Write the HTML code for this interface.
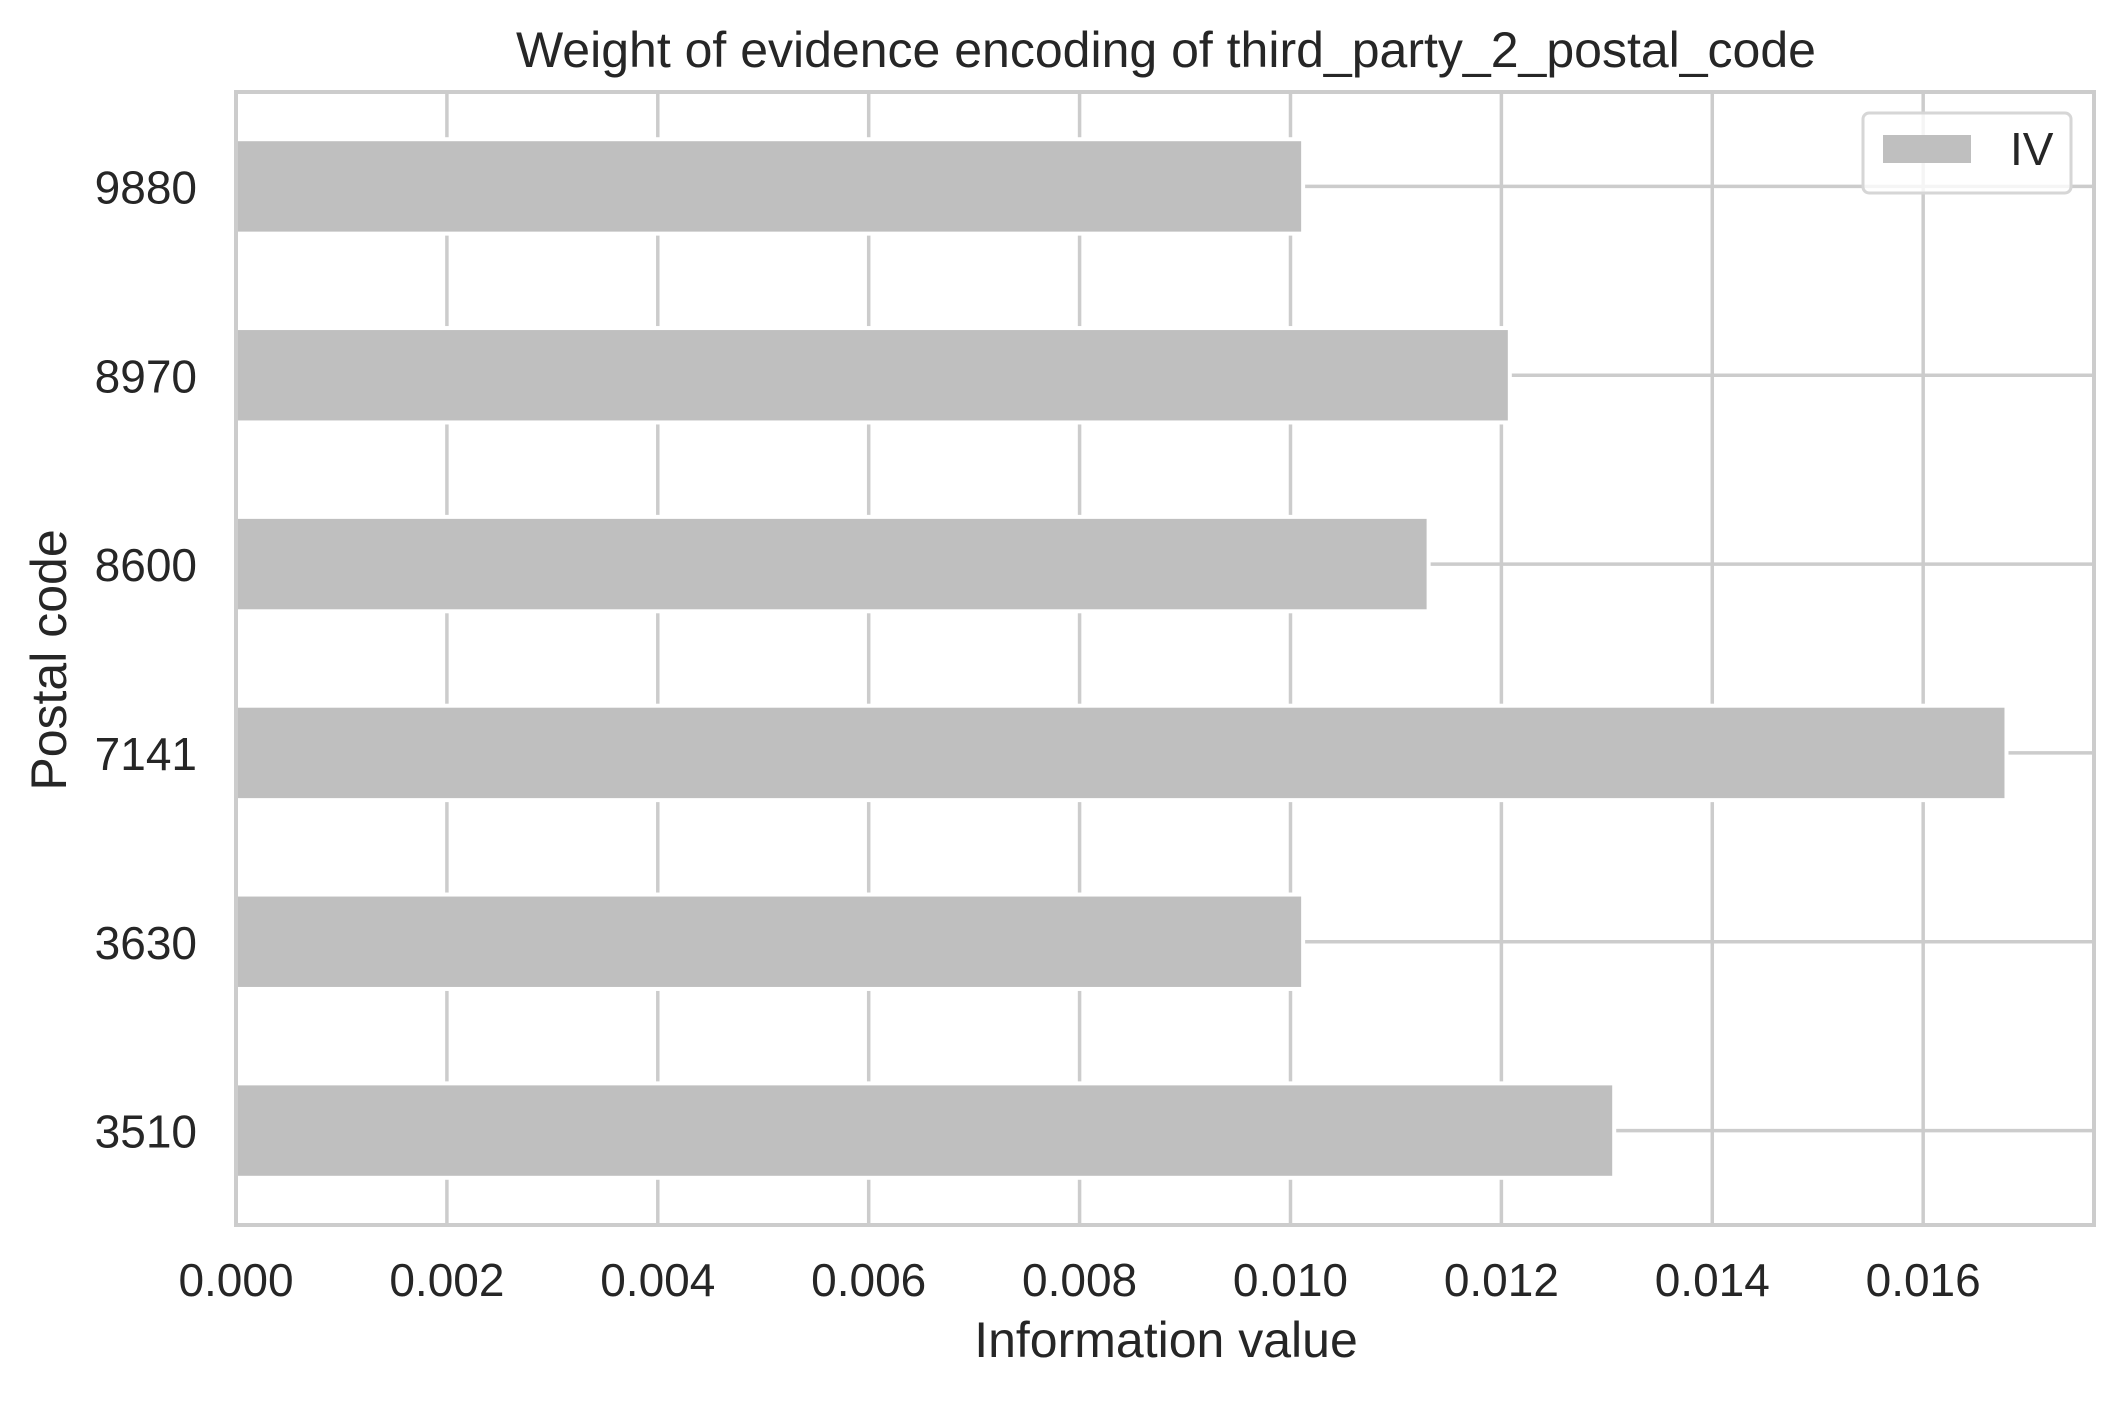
<!DOCTYPE html>
<html><head><meta charset="utf-8"><style>
html,body{margin:0;padding:0;background:#fff;}
svg text{font-family:"Liberation Sans",Arial,sans-serif;fill:#262626;}
</style></head><body>
<svg id="chart" width="2124" height="1397" viewBox="0 0 2124 1397" xmlns="http://www.w3.org/2000/svg">
<rect width="2124" height="1397" fill="#fff"/>
<g id="grid"></g>
<g id="bars"></g>
<rect x="236" y="92" width="1858" height="1133" fill="none" stroke="#cccccc" stroke-width="4"/>
<g id="xticks"></g>
<g id="yticks"></g>
<text x="1166" y="67" font-size="50" text-anchor="middle">Weight of evidence encoding of third_party_2_postal_code</text>
<text x="1166" y="1357" font-size="50" text-anchor="middle">Information value</text>
<text x="0" y="0" font-size="50" text-anchor="middle" transform="translate(66,660) rotate(-90)">Postal code</text>
<g>
<rect x="1863" y="113" width="208" height="80" rx="6" fill="#fff" fill-opacity="0.8" stroke="#d6d6d6" stroke-width="3"/>
<rect x="1883" y="135" width="88" height="28" fill="#bfbfbf"/>
<text x="2010" y="165" font-size="46">IV</text>
</g>
</svg>
<script>
const categories = ["9880","8970","8600","7141","3630","3510"];
const ivValues = [0.01012, 0.01208, 0.01131, 0.01679, 0.01012, 0.01307];
const xTicks = [0, 0.002, 0.004, 0.006, 0.008, 0.010, 0.012, 0.014, 0.016];
const xTickLabels = ["0.000","0.002","0.004","0.006","0.008","0.010","0.012","0.014","0.016"];
const NS="http://www.w3.org/2000/svg";
const L=236,R=2094,T=92,B=1225,XMAX=0.01762;
const xs=v=>L+(v/XMAX)*(R-L);
const step=(B-T)/categories.length;
const yc=i=>T+step*(i+0.5);
function mk(t,a,p){const e=document.createElementNS(NS,t);for(const k in a)e.setAttribute(k,a[k]);p.appendChild(e);return e;}
const grid=document.getElementById('grid'),bars=document.getElementById('bars'),xt=document.getElementById('xticks'),yt=document.getElementById('yticks');
xTicks.forEach((v,i)=>{
 const g=mk('line',{x1:xs(v),x2:xs(v),y1:T,y2:B,stroke:'#cccccc','stroke-width':3.5},grid);
 
 
 const t=mk('text',{x:xs(v),y:1296,'font-size':46,'text-anchor':'middle'},xt);
 t.textContent=xTickLabels[i];
 
 
});
categories.forEach((c,i)=>{
 const g=mk('line',{x1:L,x2:R,y1:yc(i),y2:yc(i),stroke:'#cccccc','stroke-width':3.5},grid);
 
 
 const b=mk('rect',{x:L,y:yc(i)-step*0.25,width:xs(ivValues[i])-L,height:step*0.5,fill:'#bfbfbf',stroke:'#fff','stroke-width':4},bars);
 
 
 const t=mk('text',{x:197,y:yc(i)+17,'font-size':46,'text-anchor':'end'},yt);
 t.textContent=c;
 
 
});
</script>
</body></html>
